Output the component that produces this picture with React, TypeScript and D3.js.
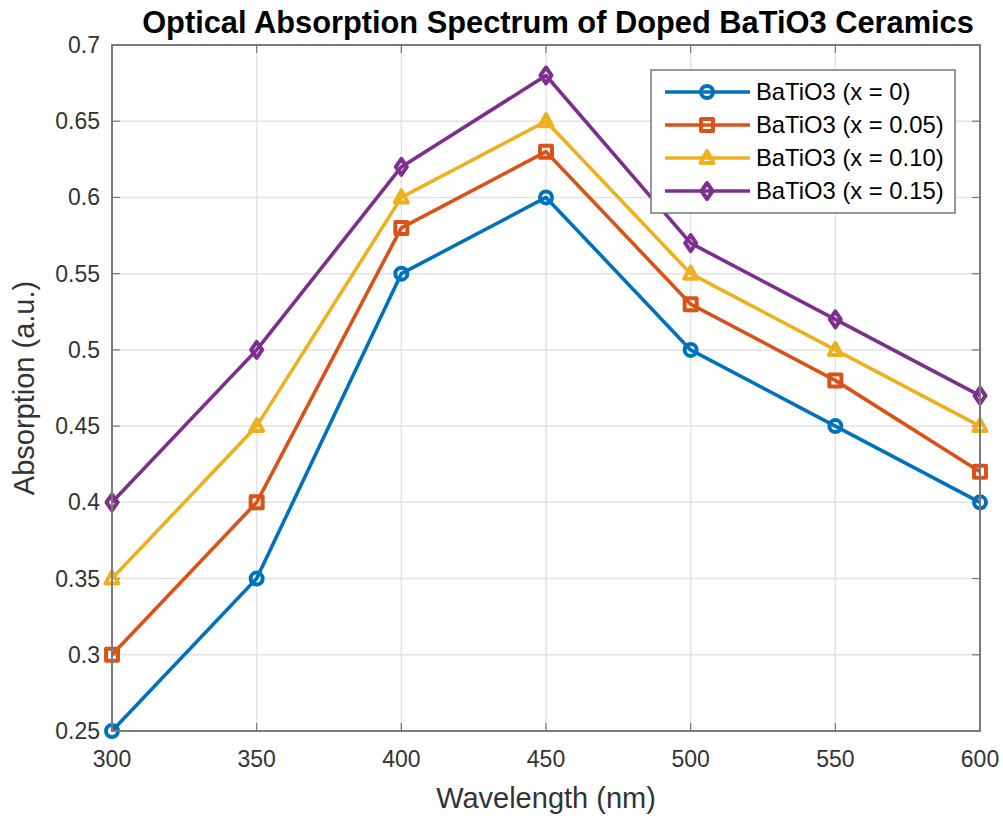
import React from "react";
import * as d3 from "d3";

const wavelengths = [300, 350, 400, 450, 500, 550, 600];
const seriesNames = ["BaTiO3 (x = 0)", "BaTiO3 (x = 0.05)", "BaTiO3 (x = 0.10)", "BaTiO3 (x = 0.15)"];
const absorptionX000 = [0.25, 0.35, 0.55, 0.6, 0.5, 0.45, 0.4];
const absorptionX005 = [0.3, 0.4, 0.58, 0.63, 0.53, 0.48, 0.42];
const absorptionX010 = [0.35, 0.45, 0.6, 0.65, 0.55, 0.5, 0.45];
const absorptionX015 = [0.4, 0.5, 0.62, 0.68, 0.57, 0.52, 0.47];
const xTicks = [300, 350, 400, 450, 500, 550, 600];
const yTicks = [0.25, 0.3, 0.35, 0.4, 0.45, 0.5, 0.55, 0.6, 0.65, 0.7];

const colors = ["#0072BD", "#D95319", "#EDB120", "#7E2F8E"];
const markers = ["circle", "square", "triangle", "diamond"];
const seriesValues = [absorptionX000, absorptionX005, absorptionX010, absorptionX015];

const W = 1003;
const H = 818;
const left = 112;
const right = 980;
const top = 45;
const bottom = 731;
const font = "'Liberation Sans', Arial, Helvetica, sans-serif";

function Marker({ type, x, y, color }: { type: string; x: number; y: number; color: string }) {
  const s = 6;
  const common = { fill: "none", stroke: color, strokeWidth: 4, strokeLinejoin: "round" as const };
  if (type === "circle") return <circle cx={x} cy={y} r={s} {...common} />;
  if (type === "square") return <rect x={x - s} y={y - s} width={2 * s} height={2 * s} {...common} />;
  if (type === "triangle")
    return <path d={`M${x},${y - s - 1}L${x + s + 0.5},${y + s - 1}L${x - s - 0.5},${y + s - 1}Z`} {...common} />;
  return <path d={`M${x},${y - s - 2}L${x + s - 0.5},${y}L${x},${y + s + 2}L${x - s + 0.5},${y}Z`} {...common} />;
}

export default function App() {
  const xScale = d3.scaleLinear().domain([300, 600]).range([left, right]);
  const yScale = d3.scaleLinear().domain([0.25, 0.7]).range([bottom, top]);
  const line = d3
    .line<number>()
    .x((_, i) => xScale(wavelengths[i]))
    .y((d) => yScale(d));

  const legendX = 651;
  const legendY = 70;
  const legendW = 304;
  const legendH = 143;
  const rowY = [92, 125, 158, 191];

  return (
    <svg width={W} height={H} style={{ display: "block", position: "absolute", left: 0, top: 0, background: "#fff" }}>
      <rect x={0} y={0} width={W} height={H} fill="#fff" />
      {/* grid */}
      {xTicks.map((t) => (
        <line key={"gx" + t} x1={xScale(t)} x2={xScale(t)} y1={top} y2={bottom} stroke="#e3e3e3" strokeWidth={1.5} />
      ))}
      {yTicks.map((t) => (
        <line key={"gy" + t} x1={left} x2={right} y1={yScale(t)} y2={yScale(t)} stroke="#e3e3e3" strokeWidth={1.5} />
      ))}
      {/* tick marks, inside, on all four sides */}
      {xTicks.map((t) => (
        <g key={"tx" + t} stroke="#777" strokeWidth={1.2}>
          <line x1={xScale(t)} x2={xScale(t)} y1={bottom} y2={bottom - 8} />
          <line x1={xScale(t)} x2={xScale(t)} y1={top} y2={top + 8} />
        </g>
      ))}
      {yTicks.map((t) => (
        <g key={"ty" + t} stroke="#777" strokeWidth={1.2}>
          <line x1={left} x2={left + 8} y1={yScale(t)} y2={yScale(t)} />
          <line x1={right} x2={right - 8} y1={yScale(t)} y2={yScale(t)} />
        </g>
      ))}
      {/* series */}
      {seriesValues.map((vals, si) => (
        <g key={"s" + si}>
          <path d={line(vals) || ""} fill="none" stroke={colors[si]} strokeWidth={3.6} strokeLinejoin="round" />
          {vals.map((v, i) => (
            <Marker key={i} type={markers[si]} x={xScale(wavelengths[i])} y={yScale(v)} color={colors[si]} />
          ))}
        </g>
      ))}
      {/* axes box */}
      <rect x={left} y={top} width={right - left} height={bottom - top} fill="none" stroke="#7a7a7a" strokeWidth={2} />
      {/* tick labels */}
      {xTicks.map((t) => (
        <text key={"lx" + t} x={xScale(t)} y={767} textAnchor="middle" fontFamily={font} fontSize={23} fill="#333">
          {t}
        </text>
      ))}
      {yTicks.map((t) => (
        <text key={"ly" + t} x={100} y={yScale(t) + 8} textAnchor="end" fontFamily={font} fontSize={23} fill="#333">
          {String(t)}
        </text>
      ))}
      {/* axis labels */}
      <text x={(left + right) / 2} y={808} textAnchor="middle" fontFamily={font} fontSize={29} fill="#333">
        Wavelength (nm)
      </text>
      <text
        transform={`translate(34,${(top + bottom) / 2}) rotate(-90)`}
        textAnchor="middle"
        fontFamily={font}
        fontSize={29}
        fill="#333"
      >
        Absorption (a.u.)
      </text>
      {/* title */}
      <text x={558} y={33} textAnchor="middle" fontFamily={font} fontSize={30.8} fontWeight="bold" fill="#000">
        Optical Absorption Spectrum of Doped BaTiO3 Ceramics
      </text>
      {/* legend */}
      <rect x={legendX} y={legendY} width={legendW} height={legendH} fill="#fff" stroke="#777" strokeWidth={1.5} />
      {seriesNames.map((name, i) => (
        <g key={"lg" + i}>
          <line x1={665} x2={750} y1={rowY[i]} y2={rowY[i]} stroke={colors[i]} strokeWidth={3.6} />
          <Marker type={markers[i]} x={707} y={rowY[i]} color={colors[i]} />
          <text x={756} y={rowY[i] + 8} fontFamily={font} fontSize={23.8} fill="#000">
            {name}
          </text>
        </g>
      ))}
    </svg>
  );
}
